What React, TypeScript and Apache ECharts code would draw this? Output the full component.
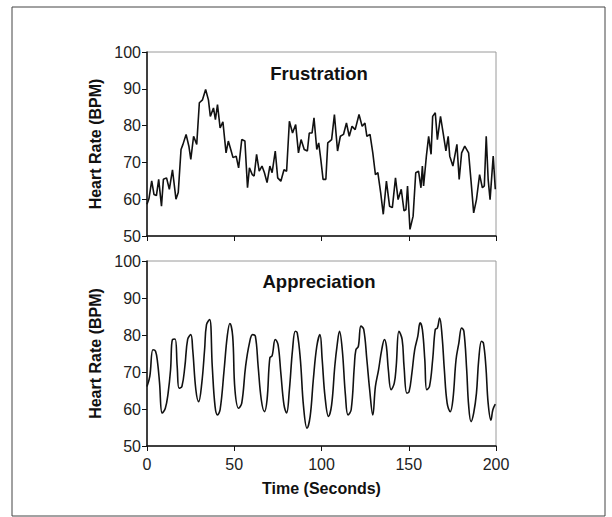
import React, { useEffect, useRef } from "react";
import * as echarts from "echarts";

const xTicks = [0, 50, 100, 150, 200];
const yTicks = [50, 60, 70, 80, 90, 100];

const frustrationTime = [
  0, 1.1, 2.7, 4.0, 5.4, 6.7, 8.3, 9.4, 11.2, 12.8, 14.6, 16.6, 17.9, 19.5, 20.6, 22.4, 24.0, 25.1, 26.7, 28.5,
  30.0, 31.8, 33.6, 35.2, 36.3, 38.1, 39.2, 40.4, 41.9, 43.5, 45.3, 46.6, 48.0, 49.3, 51.1, 52.5, 54.3, 56.1, 57.6, 58.7,
  60.3, 61.4, 62.8, 64.3, 65.9, 67.3, 68.8, 70.4, 71.7, 73.5, 74.9, 76.7, 78.5, 80.0, 81.6, 83.4, 85.2, 86.8, 88.3, 90.1,
  91.9, 93.0, 94.6, 95.7, 97.3, 98.4, 99.6, 100.9, 102.5, 103.6, 105.8, 107.4, 109.2, 110.8, 112.6, 114.3, 115.9, 117.5, 119.3, 121.5,
  123.3, 124.9, 126.0, 127.8, 129.4, 130.9, 132.3, 133.9, 135.4, 137.2, 139.0, 140.6, 142.4, 143.9, 145.7, 147.3, 148.4, 149.3, 150.7, 152.5,
  154.0, 155.6, 157.0, 157.8, 158.5, 160.1, 161.4, 162.8, 163.7, 165.2, 166.4, 168.2, 169.7, 171.3, 172.6, 173.5, 175.3, 177.6, 178.9, 180.3,
  182.1, 184.3, 185.7, 187.2, 188.8, 190.6, 192.2, 193.3, 194.4, 195.5, 196.6, 198.4, 199.6,
];
const frustrationBPM = [
  58.6, 60.1, 65.0, 61.3, 61.0, 65.4, 58.1, 65.4, 65.8, 62.7, 68.0, 60.0, 61.8, 73.5, 74.9, 77.6, 74.4, 70.8, 77.1, 74.9,
  86.2, 87.0, 89.8, 87.0, 82.5, 84.8, 81.6, 85.7, 79.4, 81.0, 72.6, 75.8, 73.5, 71.3, 71.7, 68.5, 76.2, 75.8, 63.1, 68.5,
  66.7, 66.3, 72.2, 67.6, 69.0, 67.2, 64.5, 69.0, 67.2, 73.1, 65.8, 64.9, 68.0, 67.6, 81.2, 78.0, 80.3, 72.6, 76.2, 73.5,
  73.1, 78.0, 78.0, 82.1, 73.5, 75.3, 70.8, 65.4, 65.4, 75.3, 76.2, 83.0, 73.1, 77.1, 77.6, 80.7, 77.1, 79.8, 78.9, 83.0,
  79.8, 80.7, 77.1, 77.6, 72.6, 66.7, 67.2, 61.8, 55.9, 64.9, 58.1, 57.7, 65.8, 59.9, 62.7, 56.8, 57.2, 63.6, 51.8, 55.4,
  67.2, 67.6, 63.1, 69.0, 63.6, 71.7, 77.1, 72.2, 82.5, 83.5, 76.2, 82.5, 78.0, 73.1, 77.1, 71.7, 69.0, 74.9, 65.4, 72.6,
  74.4, 72.6, 64.9, 56.3, 59.9, 66.7, 63.1, 63.6, 77.1, 65.4, 59.9, 71.7, 62.7,
];

const appreciationTime = [
  0, 1.6, 3.4, 4.9, 6.1, 7.2, 8.7, 10.5, 12.1, 13.5, 14.6, 16.1, 17.3, 18.4, 20.0, 21.7, 23.3, 25.1, 26.2, 28.0,
  29.6, 31.4, 33.0, 34.1, 35.9, 37.4, 39.0, 40.4, 41.9, 44.2, 46.0, 47.5, 49.1, 50.4, 52.5, 54.3, 56.5, 58.7, 60.5, 62.1,
  63.7, 65.5, 67.3, 68.8, 70.4, 71.7, 73.5, 75.1, 76.7, 78.5, 80.0, 81.6, 83.4, 85.0, 86.1, 87.9, 89.7, 91.7, 93.5, 95.3,
  97.3, 99.1, 100.4, 102.0, 104.0, 105.8, 107.6, 109.0, 110.3, 111.9, 113.7, 115.2, 117.0, 118.8, 119.7, 121.1, 122.6, 124.2, 126.0, 127.6,
  129.4, 130.9, 132.7, 134.5, 136.1, 137.2, 138.3, 139.9, 141.7, 142.8, 144.4, 146.2, 147.3, 148.9, 150.2, 151.8, 153.4, 155.2, 156.5, 157.8,
  159.2, 160.3, 161.9, 163.7, 165.2, 166.4, 167.7, 169.1, 170.4, 172.0, 173.8, 175.3, 177.1, 178.7, 180.3, 181.6, 183.2, 184.3, 185.7, 187.2,
  188.8, 190.1, 191.7, 192.8, 194.2, 195.5, 197.1, 198.2, 199.6,
];
const appreciationBPM = [
  66.1, 68.8, 76.0, 75.6, 72.4, 67.0, 58.9, 60.2, 64.3, 70.6, 78.8, 78.9, 71.5, 65.6, 66.1, 71.5, 78.8, 80.1, 76.0, 65.2,
  62.0, 67.0, 76.0, 82.8, 84.2, 71.5, 60.7, 58.4, 59.8, 70.6, 79.7, 83.1, 79.7, 65.2, 60.2, 61.6, 71.5, 77.8, 80.1, 79.7,
  71.5, 62.5, 59.3, 62.5, 73.8, 74.4, 78.8, 77.4, 69.7, 61.1, 58.9, 65.2, 76.0, 81.0, 80.6, 73.3, 60.7, 54.8, 58.0, 67.9,
  76.9, 80.1, 73.3, 63.4, 58.0, 61.1, 71.5, 77.4, 81.0, 76.0, 63.8, 58.4, 59.8, 71.5, 76.0, 76.9, 82.4, 81.5, 73.3, 65.2,
  58.4, 66.1, 70.6, 76.0, 78.8, 76.9, 70.6, 65.2, 67.0, 71.5, 81.0, 78.8, 71.5, 64.3, 64.7, 69.7, 76.0, 79.7, 83.3, 81.5,
  73.3, 65.2, 66.1, 73.3, 81.5, 81.9, 84.6, 79.7, 70.6, 61.6, 59.3, 62.5, 73.3, 77.8, 81.9, 81.0, 70.6, 61.1, 56.6, 58.9,
  64.3, 73.3, 78.3, 77.8, 71.5, 61.6, 57.0, 59.8, 61.3,
];

const FONT = "'Liberation Sans', Arial, sans-serif";

function pairs(t: number[], v: number[]) {
  return t.map((x, i) => [x, v[i]]);
}

export default function App() {
  const ref = useRef<HTMLDivElement>(null);
  useEffect(() => {
    if (!ref.current) return;
    const chart = echarts.init(ref.current, undefined, { renderer: "svg" });
    const grids = [
      { left: 147, top: 52, width: 349, height: 184 },
      { left: 147, top: 261, width: 349, height: 185 },
    ];
    const mkX = (gi: number, showLabels: boolean) => ({
      type: "value",
      gridIndex: gi,
      min: 0,
      max: 200,
      interval: 50,
      axisLine: { show: true, lineStyle: { color: "#111", width: 1.5 } },
      axisTick: { show: true, inside: false, length: 5, lineStyle: { color: "#111", width: 1 } },
      axisLabel: {
        show: showLabels,
        color: "#222",
        fontSize: 16,
        fontFamily: FONT,
        margin: 10,
        formatter: (v: number) => (xTicks.includes(v) ? String(v) : ""),
      },
      splitLine: { show: false },
      name: showLabels ? "Time (Seconds)" : "",
      nameLocation: "middle",
      nameGap: 34,
      nameTextStyle: { color: "#111", fontSize: 16, fontWeight: "bold", fontFamily: FONT },
    });
    const mkY = (gi: number) => ({
      type: "value",
      gridIndex: gi,
      min: 50,
      max: 100,
      interval: 10,
      axisLine: { show: true, lineStyle: { color: "#111", width: 1.5 } },
      axisTick: { show: true, inside: false, length: 5, lineStyle: { color: "#111", width: 1 } },
      axisLabel: {
        color: "#222",
        fontSize: 16,
        fontFamily: FONT,
        margin: 6,
        formatter: (v: number) => (yTicks.includes(v) ? String(v) : ""),
      },
      splitLine: { show: false },
      name: "Heart Rate (BPM)",
      nameLocation: "middle",
      nameGap: 43,
      nameTextStyle: { color: "#111", fontSize: 16, fontWeight: "bold", fontFamily: FONT },
    });
    chart.setOption({
      animation: false,
      backgroundColor: "#fff",
      grid: grids.map((g) => ({ ...g, show: true, borderColor: "#9a9a9a", borderWidth: 1, backgroundColor: "transparent" })),
      xAxis: [mkX(0, false), mkX(1, true)],
      yAxis: [mkY(0), mkY(1)],
      graphic: [
        { type: "rect", shape: { x: 12, y: 7, width: 593, height: 509 }, style: { fill: "none", stroke: "#444", lineWidth: 1 }, silent: true },
        { type: "text", x: 319, y: 73, style: { text: "Frustration", fill: "#111", font: `bold 18.5px ${FONT}`, textAlign: "center", textVerticalAlign: "middle" } },
        { type: "text", x: 319, y: 281, style: { text: "Appreciation", fill: "#111", font: `bold 18.5px ${FONT}`, textAlign: "center", textVerticalAlign: "middle" } },
      ],
      series: [
        {
          type: "line",
          xAxisIndex: 0,
          yAxisIndex: 0,
          data: pairs(frustrationTime, frustrationBPM),
          showSymbol: false,
          lineStyle: { color: "#111", width: 1.6 },
        },
        {
          type: "line",
          xAxisIndex: 1,
          yAxisIndex: 1,
          data: pairs(appreciationTime, appreciationBPM),
          showSymbol: false,
          smooth: 0.4,
          lineStyle: { color: "#111", width: 1.6 },
        },
      ],
    });
    return () => chart.dispose();
  }, []);
  return <div ref={ref} style={{ position: "fixed", left: 0, top: 0, width: 612, height: 517 }} />;
}
